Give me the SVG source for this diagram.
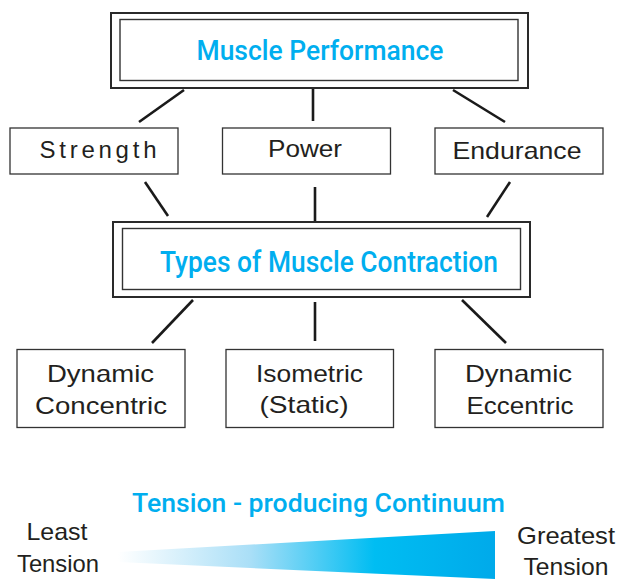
<svg xmlns="http://www.w3.org/2000/svg" width="622" height="579" viewBox="0 0 622 579">
<style>
.box{fill:#fff;stroke:#333;stroke-width:1.3}
.outer{fill:#fff;stroke:#2a2a2a;stroke-width:2}
.inner{fill:none;stroke:#333;stroke-width:1.4}
.t{font-family:"Liberation Sans",Arial,sans-serif;font-size:24px;fill:#231f20;text-anchor:middle}
.b{font-family:Roboto,"Liberation Sans",Arial,sans-serif;font-weight:500;fill:#00aeef;text-anchor:middle}
.c line{stroke:#1a1a1a;stroke-width:2.6;stroke-linecap:butt}
</style>
<defs>
<linearGradient id="g" x1="118" y1="0" x2="495" y2="0" gradientUnits="userSpaceOnUse">
<stop offset="0" stop-color="#ffffff"/>
<stop offset="0.35" stop-color="#aadff7"/>
<stop offset="0.68" stop-color="#00bdf2"/>
<stop offset="1" stop-color="#00aaea"/>
</linearGradient>
</defs>
<g class="c" id="connectors">
<line x1="184" y1="90" x2="139" y2="122"/>
<line x1="313" y1="89" x2="313" y2="121"/>
<line x1="453" y1="90" x2="505" y2="122"/>
<line x1="145" y1="182" x2="168" y2="216"/>
<line x1="315" y1="187" x2="315" y2="221"/>
<line x1="510" y1="182" x2="487" y2="217"/>
<line x1="193" y1="300" x2="152" y2="343"/>
<line x1="315" y1="302" x2="315" y2="341"/>
<line x1="462" y1="300" x2="506" y2="343"/>
</g>
<g id="muscle-performance">
<rect class="outer" x="111" y="13" width="417" height="75"/>
<rect class="inner" x="120" y="19.5" width="398" height="61"/>
<text class="b" x="320" y="60" font-size="27" textLength="247" lengthAdjust="spacingAndGlyphs">Muscle Performance</text>
</g>
<g id="strength">
<rect class="box" x="10" y="128" width="168" height="46"/>
<text class="t" x="98" y="158" textLength="117" lengthAdjust="spacing">Strength</text>
</g>
<g id="power">
<rect class="box" x="222.5" y="128" width="168" height="46"/>
<text class="t" x="305" y="157" textLength="74" lengthAdjust="spacingAndGlyphs">Power</text>
</g>
<g id="endurance">
<rect class="box" x="435" y="128" width="168" height="46"/>
<text class="t" x="517" y="159" textLength="129" lengthAdjust="spacingAndGlyphs">Endurance</text>
</g>
<g id="types">
<rect class="outer" x="113" y="222" width="417" height="75"/>
<rect class="inner" x="122.5" y="228.5" width="398" height="61"/>
<text class="b" x="329" y="271.5" font-size="29" textLength="338" lengthAdjust="spacingAndGlyphs">Types of Muscle Contraction</text>
</g>
<g id="dynamic-concentric">
<rect class="box" x="17" y="349.5" width="168" height="78"/>
<text class="t" x="100.5" y="381.5" textLength="107" lengthAdjust="spacingAndGlyphs">Dynamic</text>
<text class="t" x="101" y="413.5" textLength="132" lengthAdjust="spacingAndGlyphs">Concentric</text>
</g>
<g id="isometric">
<rect class="box" x="226" y="349.5" width="167.5" height="78"/>
<text class="t" x="309.5" y="381.5" textLength="107" lengthAdjust="spacingAndGlyphs">Isometric</text>
<text class="t" x="304" y="413" textLength="89" lengthAdjust="spacingAndGlyphs">(Static)</text>
</g>
<g id="dynamic-eccentric">
<rect class="box" x="435" y="349.5" width="168" height="78"/>
<text class="t" x="518.5" y="381.5" textLength="107" lengthAdjust="spacingAndGlyphs">Dynamic</text>
<text class="t" x="520" y="413.5" textLength="107" lengthAdjust="spacingAndGlyphs">Eccentric</text>
</g>
<g id="continuum">
<text class="b" x="318.5" y="511.5" font-size="25" textLength="373" lengthAdjust="spacingAndGlyphs">Tension - producing Continuum</text>
<polygon points="118,552 495,531 495,579 118,562" fill="url(#g)"/>
<text class="t" x="57" y="540" textLength="61" lengthAdjust="spacingAndGlyphs">Least</text>
<text class="t" x="58" y="571.5" textLength="82" lengthAdjust="spacingAndGlyphs">Tension</text>
<text class="t" x="566" y="543.5" textLength="98" lengthAdjust="spacingAndGlyphs">Greatest</text>
<text class="t" x="566" y="574.5" textLength="85" lengthAdjust="spacingAndGlyphs">Tension</text>
</g>
</svg>
